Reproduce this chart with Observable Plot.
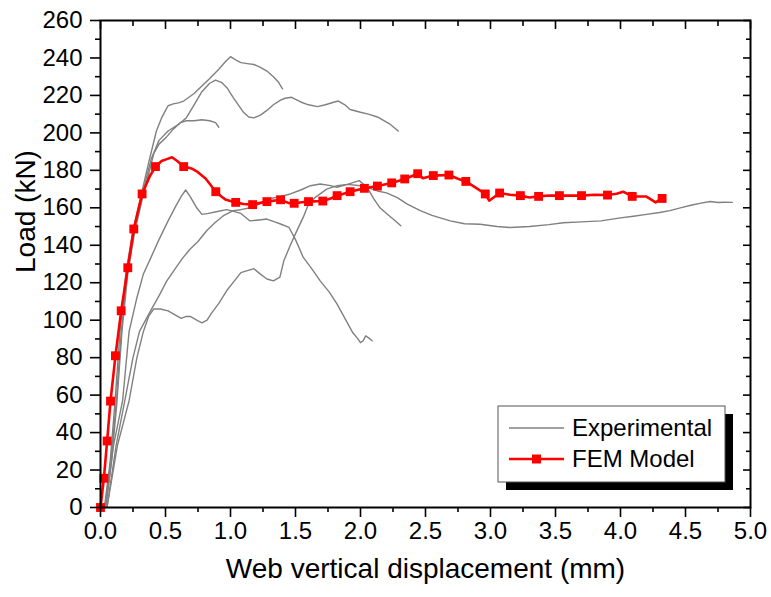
<!DOCTYPE html>
<html><head><meta charset="utf-8">
<script src="https://cdn.jsdelivr.net/npm/d3@7"></script>
<script src="https://cdn.jsdelivr.net/npm/@observablehq/plot@0.6"></script>
<style>
html,body{margin:0;padding:0;background:#fff;}
#chart{width:771px;height:597px;}
</style></head><body><div id="chart"></div>
<script>
// ---- data (displacement mm, load kN) ----
const specimen1 = [[0.03,0],[0.075,25],[0.11,55],[0.15,94],[0.195,125],[0.25,148],[0.31,166],[0.37,184],[0.43,201],[0.47,208],[0.5,212],[0.52,214.5],[0.56,215.5],[0.6,216],[0.64,217],[0.68,219],[0.72,221],[0.78,225],[0.84,229],[0.91,234],[0.96,238],[1.0,240.7],[1.04,239],[1.08,237.5],[1.13,237],[1.18,236.5],[1.23,235],[1.28,233],[1.33,230],[1.37,227],[1.4,223.5]];
const specimen2 = [[0.035,0],[0.08,25],[0.12,55],[0.16,94],[0.205,126],[0.26,149],[0.32,167],[0.39,186],[0.45,196],[0.52,201],[0.6,204.5],[0.66,208],[0.72,215],[0.78,222],[0.84,226.5],[0.885,228.2],[0.93,227],[0.974,224],[1.02,219],[1.06,215],[1.1,211],[1.14,208.5],[1.18,208],[1.23,209.5],[1.28,212],[1.33,215],[1.385,217.5],[1.42,218.5],[1.47,219],[1.54,216.5],[1.6,215],[1.67,214],[1.73,215],[1.8,216.5],[1.83,217],[1.88,215],[1.92,212.5],[2.0,211],[2.06,210],[2.13,208.5],[2.18,206.5],[2.23,204.5],[2.29,201]];
const specimen3 = [[0.04,0],[0.085,25],[0.125,55],[0.165,94],[0.21,125],[0.265,148],[0.33,167],[0.41,189],[0.45,194],[0.51,198],[0.56,202],[0.615,205.5],[0.66,206.5],[0.72,206.5],[0.78,207],[0.84,206.5],[0.885,205.5],[0.91,203]];
const specimen4 = [[0.04,0],[0.1,33],[0.17,57],[0.22,94],[0.28,112],[0.33,124.7],[0.385,133],[0.45,143],[0.52,153],[0.58,161],[0.62,166],[0.655,169.5],[0.69,166],[0.74,160],[0.78,156.5],[0.83,157],[0.9,158],[0.97,159],[1.03,158],[1.08,157],[1.15,153],[1.22,153.5],[1.28,154],[1.34,152.5],[1.38,151.5],[1.45,149.5],[1.5,143],[1.56,133.5],[1.63,127],[1.69,121],[1.76,115],[1.82,108.6],[1.88,101],[1.94,93.4],[1.98,90],[2.0,88],[2.02,89],[2.04,91.6],[2.06,90.7],[2.09,89]];
const specimen5 = [[0.05,0],[0.12,33],[0.195,60],[0.25,80],[0.3,94],[0.385,105],[0.45,113],[0.51,121],[0.57,127],[0.63,133],[0.69,138],[0.75,142],[0.82,148],[0.88,152],[0.95,156],[1.02,158.5],[1.08,159],[1.15,160],[1.22,162],[1.31,165],[1.38,166],[1.46,167.4],[1.54,169.5],[1.615,171.8],[1.69,172.7],[1.76,172],[1.82,171],[1.9,172.5],[1.99,174.5],[2.05,171],[2.1,165],[2.15,160],[2.2,157],[2.26,153.5],[2.31,150.4]];
const specimen6 = [[0.05,0],[0.13,33],[0.22,57],[0.28,80],[0.33,94],[0.37,102],[0.41,106],[0.46,106],[0.52,105],[0.57,103],[0.62,101],[0.66,102],[0.69,102],[0.74,100],[0.78,98.6],[0.82,100],[0.85,103.4],[0.91,109],[0.97,115.7],[1.03,121],[1.08,125.4],[1.13,126.5],[1.18,127.5],[1.23,124.6],[1.28,122],[1.33,121],[1.38,123],[1.41,131.7],[1.46,140],[1.51,147.7],[1.56,155],[1.6,162],[1.66,166],[1.74,170],[1.82,171.8],[1.9,172.5],[2.0,171.8],[2.07,170.5],[2.13,169],[2.2,168],[2.28,165.6],[2.36,162],[2.46,158.5],[2.55,156],[2.69,153],[2.8,151.5],[2.92,151.2],[3.05,150],[3.15,149.5],[3.3,150],[3.45,151],[3.56,152],[3.7,152.5],[3.85,153],[4.0,154.6],[4.1,155.5],[4.2,156.5],[4.3,157.5],[4.38,158.5],[4.46,160],[4.55,161.5],[4.62,162.5],[4.69,163.4],[4.75,162.8],[4.8,163],[4.86,162.9]];

const femLine = [[0,0],[0.026,15.6],[0.051,35.5],[0.077,56.8],[0.115,81],[0.159,105],[0.21,128],[0.256,148.7],[0.32,167.4],[0.38,177],[0.423,182],[0.47,185],[0.51,186],[0.55,187],[0.59,185],[0.64,182],[0.7,181],[0.74,179.5],[0.81,175.5],[0.887,168.6],[0.93,166],[0.96,164.5],[1.04,162.9],[1.1,162],[1.17,161.7],[1.22,162.5],[1.28,163.3],[1.385,164.3],[1.45,162.5],[1.49,162.4],[1.55,163],[1.6,163.3],[1.71,163.6],[1.77,165],[1.82,166.5],[1.92,168.6],[2.03,170.4],[2.13,171.6],[2.24,173.3],[2.34,175.4],[2.44,178.2],[2.48,175.8],[2.56,177.2],[2.68,177.5],[2.75,175.5],[2.81,174.1],[2.88,171],[2.96,167.4],[2.99,163.8],[3.07,167.9],[3.15,167],[3.23,166.5],[3.3,165.5],[3.37,166.1],[3.45,166.6],[3.53,166.5],[3.62,166.6],[3.70,166.5],[3.8,167],[3.90,166.8],[3.97,167.5],[4.02,168.6],[4.09,166.1],[4.2,166],[4.27,162.9],[4.32,165]];
const femMarkX = [0,0.026,0.051,0.077,0.115,0.159,0.21,0.256,0.32,0.423,0.64,0.887,1.04,1.17,1.28,1.385,1.49,1.6,1.71,1.82,1.92,2.03,2.13,2.24,2.34,2.44,2.56,2.68,2.81,2.96,3.07,3.23,3.37,3.53,3.70,3.90,4.09,4.32];
const femMarkY = [0,15.6,35.5,56.8,81,105,128,148.7,167.4,182,182,168.6,162.9,161.7,163.3,164.3,162.4,163.3,163.6,166.5,168.6,170.4,171.6,173.3,175.4,178.2,177.2,177.5,174.1,167.4,167.9,166.5,166.1,166.5,166.5,166.8,166.1,165];

const xTicks = [0,0.5,1,1.5,2,2.5,3,3.5,4,4.5,5];
const xMinor = [0.25,0.75,1.25,1.75,2.25,2.75,3.25,3.75,4.25,4.75];
const yTicks = [0,20,40,60,80,100,120,140,160,180,200,220,240,260];
const yMinor = [10,30,50,70,90,110,130,150,170,190,210,230,250];
const xTitle = "Web vertical displacement (mm)";
const yTitle = "Load (kN)";
const legendLabels = ["Experimental", "FEM Model"];

const specimens = [specimen1, specimen2, specimen3, specimen4, specimen5, specimen6];
const expRows = specimens.flatMap((s, i) => s.map(([x, y]) => ({x, y, id: i})));
const femRows = femLine.map(([x, y]) => ({x, y}));
const markRows = femMarkX.map((x, i) => ({x, y: femMarkY[i]}));
const blank = () => "";
const FONT = "'Liberation Sans', Arial, Helvetica, sans-serif";

const chart = Plot.plot({
  width: 771, height: 597,
  marginLeft: 100, marginRight: 21, marginTop: 20, marginBottom: 90,
  style: {fontFamily: FONT, background: "#fff", color: "#000"},
  x: {domain: [0, 5], axis: null},
  y: {domain: [0, 260], axis: null},
  marks: [
    Plot.line(expRows, {x: "x", y: "y", z: "id", stroke: "#808080", strokeWidth: 1.4}),
    Plot.line(femRows, {x: "x", y: "y", stroke: "#ff0000", strokeWidth: 2.6}),
    Plot.dot(markRows, {x: "x", y: "y", symbol: "square", r: 5, fill: "#ff0000", stroke: "none"}),
    Plot.axisX(xTicks, {anchor: "bottom", tickSize: 10, tickPadding: 4, fontSize: 24, tickFormat: d3.format(".1f"), label: null, strokeWidth: 1.6}),
    Plot.axisX(xMinor, {anchor: "bottom", tickSize: 5, tickFormat: blank, label: null, strokeWidth: 1.6}),
    Plot.axisX(xTicks, {anchor: "top", tickSize: 8, dy: 8, tickFormat: blank, label: null, strokeWidth: 1.6}),
    Plot.axisX(xMinor, {anchor: "top", tickSize: 5, dy: 5, tickFormat: blank, label: null, strokeWidth: 1.6}),
    Plot.axisY(yTicks, {anchor: "left", tickSize: 10, tickPadding: 8, fontSize: 24, label: null, strokeWidth: 1.6}),
    Plot.axisY(yMinor, {anchor: "left", tickSize: 5, tickFormat: blank, label: null, strokeWidth: 1.6}),
    Plot.axisY(yTicks, {anchor: "right", tickSize: 8, dx: -8, tickFormat: blank, label: null, strokeWidth: 1.6}),
    Plot.axisY(yMinor, {anchor: "right", tickSize: 5, dx: -5, tickFormat: blank, label: null, strokeWidth: 1.6}),
    Plot.frame({stroke: "#000", strokeWidth: 2}),
    Plot.text([xTitle], {frameAnchor: "bottom", dy: 70, fontSize: 28, text: d => d}),
    Plot.text([yTitle], {frameAnchor: "left", dx: -74, dy: 9, rotate: -90, fontSize: 28, text: d => d})
  ]
});
document.getElementById("chart").appendChild(chart);

// ---- legend (inside plot area, lower right) ----
const svg = d3.select(chart);
const lg = svg.append("g").attr("font-family", FONT).attr("text-anchor", "start");
const bx = 498, by = 406, bw = 227, bh = 76;
lg.append("rect").attr("x", bx + 8).attr("y", by + 8).attr("width", bw).attr("height", bh).attr("fill", "#000");
lg.append("rect").attr("x", bx).attr("y", by).attr("width", bw).attr("height", bh).attr("fill", "#fff").attr("stroke", "#555").attr("stroke-width", 1);
const rowsY = [428, 459];
lg.append("line").attr("x1", 509).attr("x2", 564).attr("y1", rowsY[0]).attr("y2", rowsY[0]).attr("stroke", "#808080").attr("stroke-width", 1.4);
lg.append("line").attr("x1", 509).attr("x2", 564).attr("y1", rowsY[1]).attr("y2", rowsY[1]).attr("stroke", "#ff0000").attr("stroke-width", 2.6);
lg.append("rect").attr("x", 536.5 - 4.5).attr("y", rowsY[1] - 4.5).attr("width", 9).attr("height", 9).attr("fill", "#ff0000");
legendLabels.forEach((t, i) => {
  lg.append("text").attr("x", 572).attr("y", rowsY[i]).attr("dy", "0.35em").attr("text-anchor", "start").attr("font-size", 24).attr("fill", "#000").text(t);
});
</script>
</body></html>
